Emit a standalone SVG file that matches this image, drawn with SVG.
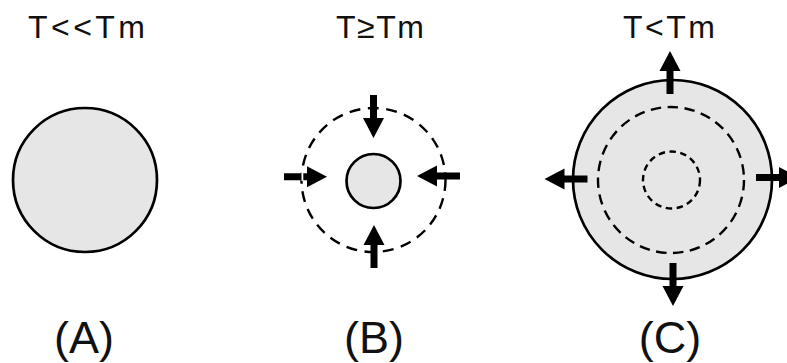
<svg xmlns="http://www.w3.org/2000/svg" width="787" height="363" viewBox="0 0 787 363">
<style>
.solid{fill:#e6e6e6;stroke:#000;stroke-width:2.7}
.dash{fill:none;stroke:#000;stroke-width:2.4}
.top{font-family:"Liberation Sans",Arial,sans-serif;font-size:32px;fill:#111}
.lab{font-family:"Liberation Sans",Arial,sans-serif;font-size:45px;fill:#111;text-anchor:middle}
.arr{fill:#000}
</style>
<defs>
<path id="arrow" class="arr" d="M0,-3.5 H23 V-10.5 L43,0 L23,10.5 V3.5 H0 Z"/>
</defs>
<rect width="787" height="363" fill="#fff"/>
<g id="nodeA">
<text class="top" x="28" y="38" textLength="117" lengthAdjust="spacing">T&lt;&lt;Tm</text>
<circle class="solid" cx="85" cy="180" r="72"/>
<text class="lab" x="84" y="353">(A)</text>
</g>
<g id="nodeB">
<text class="top" x="336" y="38" textLength="88" lengthAdjust="spacing">T≥Tm</text>
<circle class="dash" cx="373.5" cy="180" r="72" stroke-dasharray="11 7.5"/>
<circle class="solid" cx="373.5" cy="181" r="27"/>
<text class="lab" x="374" y="353">(B)</text>
</g>
<g id="nodeC">
<text class="top" x="623" y="38" textLength="92" lengthAdjust="spacing">T&lt;Tm</text>
<circle class="solid" cx="672.5" cy="179.5" r="99.5"/>
<circle class="dash" cx="671" cy="180" r="73" stroke-dasharray="10.5 6.5"/>
<circle class="dash" cx="671.5" cy="180" r="28.5" stroke-dasharray="6.5 4.5"/>
<text class="lab" x="670" y="353">(C)</text>
</g>
<g id="connectors">
<use href="#arrow" transform="translate(373.5,95) rotate(90)"/>
<use href="#arrow" transform="translate(374,268) rotate(-90)"/>
<use href="#arrow" transform="translate(284,176.7)"/>
<rect x="301.5" y="172.5" width="1.8" height="8.4" fill="#fff"/>
<use href="#arrow" transform="translate(460,176) rotate(180)"/>
<use href="#arrow" transform="translate(670,94) rotate(-90)"/>
<use href="#arrow" transform="translate(673,263) rotate(90)"/>
<use href="#arrow" transform="translate(587.5,179) rotate(180)"/>
<use href="#arrow" transform="translate(756,177.5)"/>
</g>
</svg>
